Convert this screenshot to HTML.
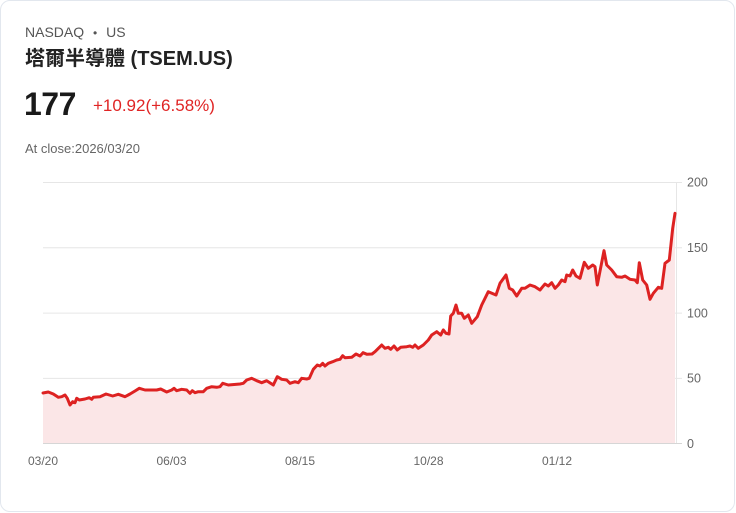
<!DOCTYPE html>
<html><head><meta charset="utf-8">
<style>
html,body{margin:0;padding:0;background:#fff;}
body{width:736px;height:513px;overflow:hidden;position:relative;font-family:"Liberation Sans","Noto Sans CJK TC",sans-serif;}
.card{position:absolute;left:0;top:0;width:733px;height:510px;border:1px solid #e2e7ee;border-radius:10px;background:#fff;}
.t{position:absolute;white-space:nowrap;}
</style></head><body>
<div class="card"></div>
<div class="t" style="left:25px;top:24px;font-size:14px;color:#555;">NASDAQ <span style="margin:0 5px;font-size:12px;">•</span> US</div>
<div class="t" style="left:25px;top:42px;font-size:20px;font-weight:bold;color:#222;">塔爾半導體 (TSEM.US)</div>
<div class="t" style="left:24px;top:86px;font-size:32px;font-weight:bold;color:#1a1a1a;letter-spacing:-0.5px;">177</div>
<div class="t" style="left:93px;top:96px;font-size:17px;color:#e02424;">+10.92(+6.58%)</div>
<div class="t" style="left:25px;top:141px;font-size:13px;color:#666;">At close:2026/03/20</div>
<svg width="736" height="513" style="position:absolute;left:0;top:0;" xmlns="http://www.w3.org/2000/svg">
<g stroke="#e6e6e6" stroke-width="1">
<line x1="43" y1="182.5" x2="682" y2="182.5"/>
<line x1="43" y1="247.8" x2="682" y2="247.8"/>
<line x1="43" y1="313.1" x2="682" y2="313.1"/>
<line x1="43" y1="378.4" x2="682" y2="378.4"/>
<line x1="676.5" y1="182" x2="676.5" y2="443.5"/>
</g>
<polygon fill="#fbe6e7" points="43,393 48.3,392 53.3,394 58.3,397.3 61.7,396.7 65,395 67.3,398.3 70,405 72.7,401.7 75,402.7 76.7,398.3 79.3,400 85,399 89.3,397.7 91.7,399.3 93.3,397.3 100,396.7 106,394 112.7,396 118.3,394.3 125,396.7 130,394 135,391 139.3,388.3 145,390 156.7,390 160.7,389 166.7,392 171.7,390 174,388.3 176.7,390.7 181.7,389.3 186.7,390 190,393.3 192.3,390.7 195,392.7 198.3,391.7 203.3,391.7 206.7,388.3 211.7,386.7 216.7,387.3 220,386.7 222.7,383.3 228.3,385 240,384 243.3,383.3 246.7,380 251.7,378.3 256.7,380.7 261.7,382.7 266.7,380.7 273.3,385 277.3,376.7 281.7,379.3 286.7,380 290,383.3 295,381.7 298.3,382.7 301.7,378.3 306.7,379 309.3,378.3 313.3,369.3 317.3,365 320,366 322.7,363.3 325,366 328.3,363.3 332.7,361.7 336.7,360 340,359.3 342.7,355.7 345,357.7 351.7,357.3 356,354 360,356 363,352.7 367,354.3 372,354 375,351.7 381.7,345 385,348.3 388.3,347.3 390.7,349.3 394,346 397.3,350 400.7,347.3 406.7,346.7 410,346 412.7,347.3 415,345 418.3,348.3 423.3,345 428.3,340 431.7,335 436.7,331.7 440.7,335 443.3,330 446,333.3 449,334 450.7,316 453.3,313.3 456,305 458.3,313.3 461.7,313.3 464.3,318.3 468.3,315 471.7,323.3 477.3,316.7 481.7,305 488.3,291.7 496,295 500,283.3 506,275 509.3,288.3 512.7,290 516.7,296 521.7,288.3 525,288.3 530,285 535,286.7 540,290 542.7,286.7 545,284 548.3,286 551.7,282.7 555,288.3 558.3,285 561.7,280 565,281.7 566.7,275 570,276 572.7,270 576,276 580,278.3 584.3,262.3 588.3,268.3 592.7,265 595,266.7 597.3,285 604,250.7 606.7,265 611.7,270 616.7,276.7 621.7,277.3 625,276 630,279.3 635,280 637.3,282.7 639.3,262.7 642.7,280 646.7,285 650,299.3 653.3,293.3 658.3,287.3 661.7,288.3 665,263.3 669.3,260 672.7,228.3 675,213.3 675,443.5 43,443.5"/>
<line x1="43" y1="443.5" x2="682" y2="443.5" stroke="#d6d6d6" stroke-width="1"/>
<polyline fill="none" stroke="#dd2222" stroke-width="3" stroke-linejoin="round" stroke-linecap="round" points="43,393 48.3,392 53.3,394 58.3,397.3 61.7,396.7 65,395 67.3,398.3 70,405 72.7,401.7 75,402.7 76.7,398.3 79.3,400 85,399 89.3,397.7 91.7,399.3 93.3,397.3 100,396.7 106,394 112.7,396 118.3,394.3 125,396.7 130,394 135,391 139.3,388.3 145,390 156.7,390 160.7,389 166.7,392 171.7,390 174,388.3 176.7,390.7 181.7,389.3 186.7,390 190,393.3 192.3,390.7 195,392.7 198.3,391.7 203.3,391.7 206.7,388.3 211.7,386.7 216.7,387.3 220,386.7 222.7,383.3 228.3,385 240,384 243.3,383.3 246.7,380 251.7,378.3 256.7,380.7 261.7,382.7 266.7,380.7 273.3,385 277.3,376.7 281.7,379.3 286.7,380 290,383.3 295,381.7 298.3,382.7 301.7,378.3 306.7,379 309.3,378.3 313.3,369.3 317.3,365 320,366 322.7,363.3 325,366 328.3,363.3 332.7,361.7 336.7,360 340,359.3 342.7,355.7 345,357.7 351.7,357.3 356,354 360,356 363,352.7 367,354.3 372,354 375,351.7 381.7,345 385,348.3 388.3,347.3 390.7,349.3 394,346 397.3,350 400.7,347.3 406.7,346.7 410,346 412.7,347.3 415,345 418.3,348.3 423.3,345 428.3,340 431.7,335 436.7,331.7 440.7,335 443.3,330 446,333.3 449,334 450.7,316 453.3,313.3 456,305 458.3,313.3 461.7,313.3 464.3,318.3 468.3,315 471.7,323.3 477.3,316.7 481.7,305 488.3,291.7 496,295 500,283.3 506,275 509.3,288.3 512.7,290 516.7,296 521.7,288.3 525,288.3 530,285 535,286.7 540,290 542.7,286.7 545,284 548.3,286 551.7,282.7 555,288.3 558.3,285 561.7,280 565,281.7 566.7,275 570,276 572.7,270 576,276 580,278.3 584.3,262.3 588.3,268.3 592.7,265 595,266.7 597.3,285 604,250.7 606.7,265 611.7,270 616.7,276.7 621.7,277.3 625,276 630,279.3 635,280 637.3,282.7 639.3,262.7 642.7,280 646.7,285 650,299.3 653.3,293.3 658.3,287.3 661.7,288.3 665,263.3 669.3,260 672.7,228.3 675,213.3"/>
<g font-family="Liberation Sans, sans-serif" font-size="12.5" fill="#666">
<text x="687" y="186.5">200</text>
<text x="687" y="252">150</text>
<text x="687" y="317.3">100</text>
<text x="687" y="382.6">50</text>
<text x="687" y="447.8">0</text>
</g>
<g font-family="Liberation Sans, sans-serif" font-size="12" fill="#666" text-anchor="middle">
<text x="43" y="465">03/20</text>
<text x="171.5" y="465">06/03</text>
<text x="300" y="465">08/15</text>
<text x="428.5" y="465">10/28</text>
<text x="557" y="465">01/12</text>
</g>
</svg>
</body></html>
